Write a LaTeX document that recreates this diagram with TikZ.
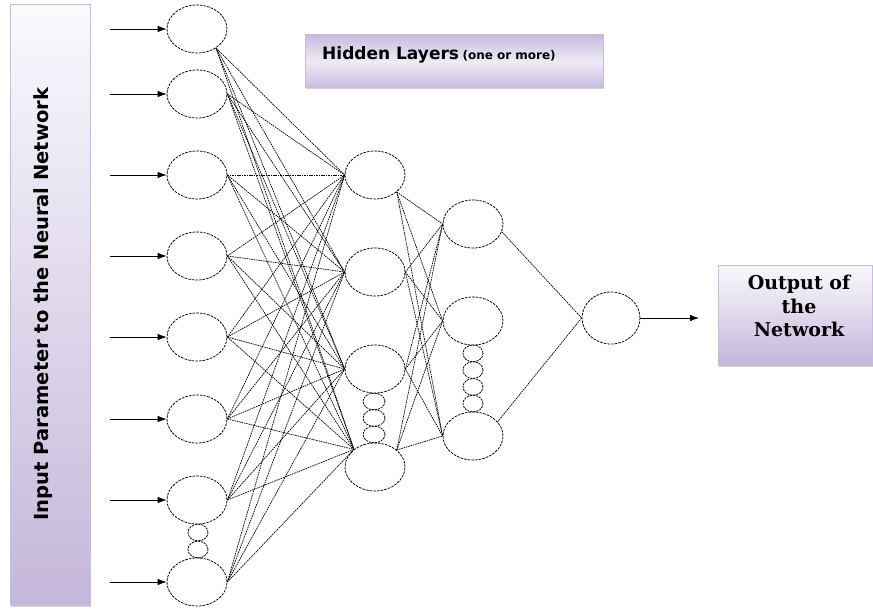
\documentclass[tikz,border=0pt]{standalone}
\usepackage{fontspec}
\newfontfamily\djsans{DejaVu Sans}
\newfontfamily\djserif{DejaVu Serif}
\usetikzlibrary{arrows.meta,shapes.geometric,shadows}
\definecolor{lav}{RGB}{196,183,218}
\definecolor{lavtop}{RGB}{200,188,222}
\definecolor{lavmid}{RGB}{238,234,245}
\definecolor{lavline}{RGB}{200,188,222}
\definecolor{lavlight}{RGB}{250,249,253}
\begin{document}
\begin{tikzpicture}[x=1pt,y=-1pt,
  neuron/.style={ellipse, draw=black, line width=0.75pt, dash pattern=on 2.6pt off 1.1pt,
    minimum width=60pt, minimum height=48pt, inner sep=0pt},
  small/.style={ellipse, draw=black, line width=0.75pt, dash pattern=on 2.2pt off 0.9pt,
    minimum width=20pt, minimum height=16.7pt, inner sep=0pt},
  link/.style={draw=black, line width=0.7pt, dash pattern=on 1.6pt off 0.8pt},
  inarrow/.style={draw=black, line width=0.8pt, -{Latex[length=9pt,width=6.5pt]}},
  panel/.style={draw=lavline, line width=1pt, top color=lavlight, bottom color=lav,
    drop shadow={shadow xshift=1pt, shadow yshift=-1.5pt, opacity=0.35}},
  hpanel/.style={draw=lavline, line width=1pt, top color=lavtop, bottom color=lavtop, middle color=lavmid,
    drop shadow={shadow xshift=1pt, shadow yshift=-1.5pt, opacity=0.35}}
]
\useasboundingbox (0,0) rectangle (873,610);

% panels
\node[panel, minimum width=80pt, minimum height=600pt, inner sep=0pt] (inbox) at (50,305) {};
\node[rotate=90, font=\djsans\bfseries\fontsize{19.5}{20}\selectfont] (inlabel) at (43,304)
  {Input Parameter to the Neural Network};
\node[hpanel, minimum width=298pt, minimum height=53pt, inner sep=0pt] (hbox) at (454,61.5) {};
\node[anchor=west, inner sep=0pt, font=\djsans\bfseries] (hlabel) at (322,55)
  {{\fontsize{17}{19}\selectfont Hidden Layers} {\fontsize{12}{14}\selectfont (one or more)}};
\node[panel, minimum width=154pt, minimum height=100pt, inner sep=0pt] (obox) at (795,315) {};
\node[align=center, font=\djserif\bfseries\fontsize{19}{23.5}\selectfont, inner sep=0pt] (olabel) at (799,306)
  {Output of\\the\\Network};

% input layer
\foreach \n/\y in {1/29,2/94,3/175,4/256,5/337,6/419,7/500,8/582}{
  \node[neuron] (i\n) at (197,\y) {};
  \coordinate (s\n) at (110,\y);
  \draw[inarrow] (s\n) -- (i\n.west);
}
\node[small] (id1) at (198,532.5) {};
\node[small] (id2) at (198,549.5) {};

% hidden layer 1
\foreach \n/\y in {1/175,2/272,3/369,4/467}{
  \node[neuron] (h\n) at (375,\y) {};
}
\node[small, minimum width=22pt] (hd1) at (374,401.5) {};
\node[small, minimum width=22pt] (hd2) at (374,418) {};
\node[small, minimum width=22pt] (hd3) at (374,434.5) {};

% hidden layer 2
\foreach \n/\y in {1/224,2/321,3/436}{
  \node[neuron] (g\n) at (473,\y) {};
}
\foreach \k/\y in {1/353.4,2/370.1,3/386.9,4/403.6}{
  \node[small] (gd\k) at (473,\y) {};
}

% output node
\node[neuron, minimum width=58pt, minimum height=52pt] (o) at (611,318) {};
\coordinate (oend) at (699,318);
\draw[inarrow] (o.east) -- (oend);

% connections input -> hidden 1
\foreach \i/\s in {1/-45,2/east,3/east,4/east,5/east,6/east,7/east,8/east}{
  \foreach \h/\a in {1/west,2/west,3/west,4/140}{
    \draw[link] (i\i.\s) -- (h\h.\a);
  }
}
% hidden 1 -> hidden 2
\foreach \h/\s in {1/-38,2/east,3/east,4/38}{
  \foreach \g in {1,2,3}{
    \draw[link] (h\h.\s) -- (g\g.west);
  }
}
% hidden 2 -> output
\draw[link] (g1.-15) -- (o.west);
\draw[link] (g3.30) -- (o.west);
\end{tikzpicture}
\end{document}
